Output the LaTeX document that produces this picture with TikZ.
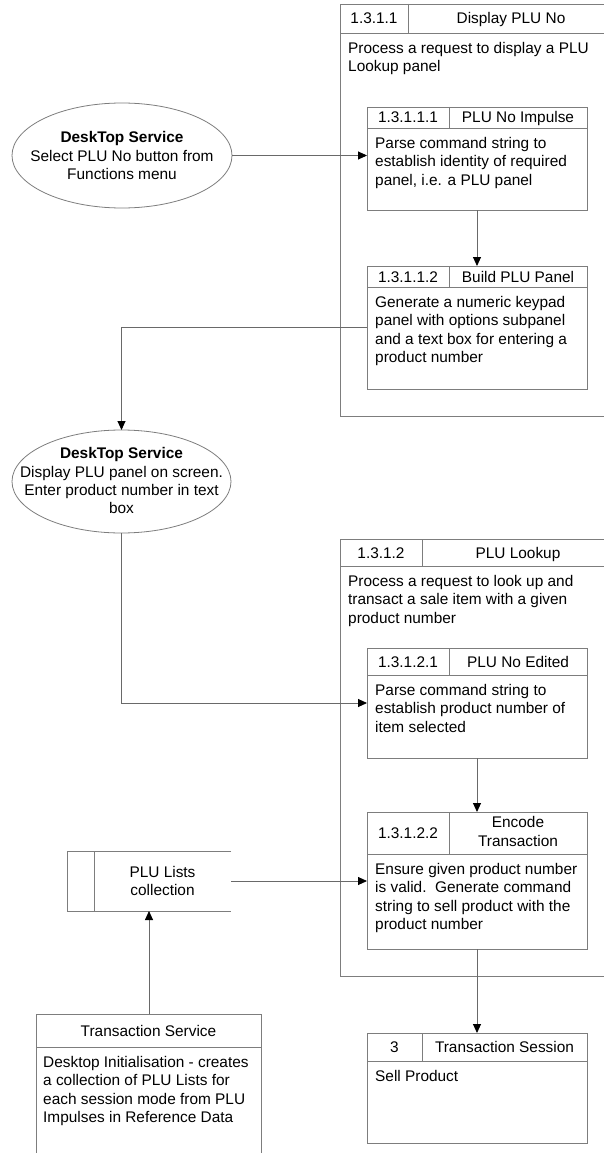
\documentclass[tikz,border=0pt]{standalone}
\usepackage{fontspec}
\setmainfont{Liberation Sans}
\usetikzlibrary{shapes.geometric,arrows.meta}
\definecolor{boxgray}{RGB}{125,125,125}
\definecolor{linegray}{RGB}{105,105,105}
\newcommand{\diagfont}{\fontsize{15.4pt}{18.3pt}\selectfont}
\tikzset{
  boxline/.style={draw=boxgray, line width=0.9pt},
  frame/.style={rectangle, boxline, anchor=north west, inner sep=0pt, outer sep=0pt},
  cell/.style={anchor=base, inner sep=0pt, font=\diagfont},
  bodytext/.style={anchor=north west, inner sep=0pt, align=left, font=\diagfont},
  centertext/.style={anchor=north, inner sep=0pt, align=center, font=\diagfont},
  usecase/.style={ellipse, draw=boxgray, line width=0.8pt, inner sep=0pt, outer sep=0pt},
  flow/.style={draw=linegray, line width=0.9pt, -{Triangle[length=9pt,width=8pt,color=black]}},
  plain/.style={draw=linegray, line width=0.9pt}
}
\begin{document}
\begin{tikzpicture}[x=1pt,y=-1pt]
\useasboundingbox (0,0) rectangle (604,1153);
\fill[white] (0,0) rectangle (604,1153);
\clip (0,0) rectangle (604,1153);

% ---------- 1.3.1.1 Display PLU No ----------
\node[frame, minimum width=274pt, minimum height=412pt] (g1) at (340,4) {};
\draw[boxline] (340,33) -- (614,33);
\draw[boxline] (408,4) -- (408,33);
\node[cell] (g1id) at (374,24) {1.3.1.1};
\node[cell] (g1title) at (511,24) {Display PLU No};
\node[bodytext] (g1text) at (348,40.5) {\strut Process a request to display a PLU\\Lookup panel};

% 1.3.1.1.1 PLU No Impulse
\node[frame, minimum width=220pt, minimum height=103pt] (p11) at (367,107) {};
\draw[boxline] (367,128) -- (587,128);
\draw[boxline] (449,107) -- (449,128);
\node[cell] (p11id) at (408,123) {1.3.1.1.1};
\node[cell] (p11title) at (518,123) {PLU No Impulse};
\node[bodytext] (p11text) at (375,135.5) {\strut Parse command string to\\establish identity of required\\panel, i.e. a PLU panel};

% 1.3.1.1.2 Build PLU Panel
\node[frame, minimum width=220pt, minimum height=123pt] (p12) at (367,266) {};
\draw[boxline] (367,287) -- (587,287);
\draw[boxline] (449,266) -- (449,287);
\node[cell] (p12id) at (408,282) {1.3.1.1.2};
\node[cell] (p12title) at (518,282) {Build PLU Panel};
\node[bodytext] (p12text) at (375,294.5) {\strut Generate a numeric keypad\\panel with options subpanel\\and a text box for entering a\\product number};

% ---------- DeskTop Service use cases ----------
\node[usecase, minimum width=220pt, minimum height=105pt] (e1) at (122,155.5) {};
\node[centertext] (e1text) at (122,129.7) {\strut\textbf{DeskTop Service}\\Select PLU No button from\\Functions menu};

\node[usecase, minimum width=219pt, minimum height=103pt] (e2) at (121.5,481.5) {};
\node[centertext] (e2text) at (121.5,445.7) {\strut\textbf{DeskTop Service}\\Display PLU panel on screen.\\Enter product number in text\\box};

% ---------- 1.3.1.2 PLU Lookup ----------
\node[frame, minimum width=274pt, minimum height=437pt] (g2) at (340,539) {};
\draw[boxline] (340,566) -- (614,566);
\draw[boxline] (422,539) -- (422,566);
\node[cell] (g2id) at (381,558) {1.3.1.2};
\node[cell] (g2title) at (518,558) {PLU Lookup};
\node[bodytext] (g2text) at (348,573.5) {\strut Process a request to look up and\\transact a sale item with a given\\product number};

% 1.3.1.2.1 PLU No Edited
\node[frame, minimum width=220pt, minimum height=110pt] (c1) at (367,648) {};
\draw[boxline] (367,675) -- (587,675);
\draw[boxline] (449,648) -- (449,675);
\node[cell] (c1id) at (408,667) {1.3.1.2.1};
\node[cell] (c1title) at (518,667) {PLU No Edited};
\node[bodytext] (c1text) at (375,682.5) {\strut Parse command string to\\establish product number of\\item selected};

% 1.3.1.2.2 Encode Transaction
\node[frame, minimum width=220pt, minimum height=137pt] (c2) at (367,812) {};
\draw[boxline] (367,854) -- (587,854);
\draw[boxline] (449,812) -- (449,854);
\node[cell] (c2id) at (408,838.5) {1.3.1.2.2};
\node[centertext] (c2title) at (518,814.7) {\strut Encode\\Transaction};
\node[bodytext] (c2text) at (375,861.5) {\strut Ensure given product number\\is valid.\ \ Generate command\\string to sell product with the\\product number};

% ---------- 3 Transaction Session ----------
\node[frame, minimum width=220pt, minimum height=110pt] (ts) at (367,1033) {};
\draw[boxline] (367,1061) -- (587,1061);
\draw[boxline] (422,1033) -- (422,1061);
\node[cell] (tsid) at (394.5,1052.5) {3};
\node[cell] (tstitle) at (504.5,1052.5) {Transaction Session};
\node[bodytext] (tstext) at (375,1068.5) {\strut Sell Product};

% ---------- PLU Lists collection (data store) ----------
\node[inner sep=0pt, outer sep=0pt, anchor=north west, minimum width=164pt, minimum height=60pt] (store) at (67,851) {};
\draw[boxline] (store.north east) -- (store.north west) -- (store.south west) -- (store.south east);
\draw[boxline] (94,851) -- (94,911);
\node[centertext] (storetext) at (162.5,864.2) {\strut PLU Lists\\collection};

% ---------- Transaction Service ----------
\node[frame, minimum width=225pt, minimum height=150pt] (trs) at (36,1014) {};
\draw[boxline] (36,1047) -- (261,1047);
\node[cell] (trstitle) at (148.5,1036) {Transaction Service};
\node[bodytext] (trstext) at (43,1054.5) {\strut Desktop Initialisation - creates\\a collection of PLU Lists for\\each session mode from PLU\\Impulses in Reference Data};

% ---------- connectors ----------
\draw[flow] (e1.east) -- (e1.east -| p11.west);
\draw[flow] (p11.south) -- (p12.north);
\draw[flow] (p12.west) -| (e2.north);
\draw[flow] (e2.south) |- (c1.west);
\draw[flow] (c1.south) -- (c2.north);
\draw[flow] (store.east) -- (store.east -| c2.west);
\draw[flow] (c2.south) -- (ts.north);
\draw[flow] (trs.north -| store.south) -- (store.south);
\end{tikzpicture}
\end{document}
